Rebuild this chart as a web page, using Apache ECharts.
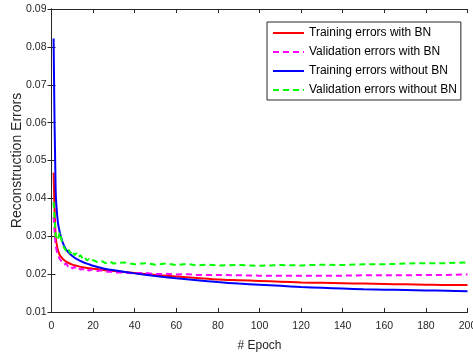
<!DOCTYPE html>
<html>
<head>
<meta charset="utf-8">
<script src="https://cdn.jsdelivr.net/npm/echarts@6/dist/echarts.min.js"></script>
<style>html,body{margin:0;padding:0;background:#fff}#c{width:473px;height:354px}</style>
</head>
<body>
<div id="c"></div>
<script>
// Epoch / value pairs
const trainBNEpochs   = [1,2,3,4,5,6,7,8,10,12,15,20,25,30,40,50,60,70,80,90,100,110,120,130,140,150,160,170,180,190,200];
const trainBN         = [0.0468,0.0300,0.0265,0.0250,0.0243,0.0237,0.0233,0.0230,0.0225,0.0222,0.0218,0.0214,0.0211,0.0208,0.0203,0.0198,0.0194,0.0190,0.0186,0.0184,0.0182,0.0180,0.0178,0.0177,0.0176,0.0175,0.0174,0.0173,0.0172,0.0171,0.0171];

const trainNoBNEpochs = [1,2,3,4,5,6,7,8,10,12,15,18,20,25,30,40,50,60,70,80,90,100,110,120,130,140,150,160,170,180,190,200];
const trainNoBN       = [0.0822,0.0420,0.0340,0.0310,0.0290,0.0275,0.0265,0.0258,0.0248,0.0240,0.0232,0.0226,0.0222,0.0215,0.0210,0.0202,0.0195,0.0189,0.0184,0.0179,0.0175,0.0172,0.0169,0.0166,0.0164,0.0162,0.0160,0.0159,0.0158,0.0157,0.0156,0.0155];

const valBNEpochs     = [1,2,3,4,5,6,7,8,9,10,11,12,13,14,15,16,17,18,19,20,22,24,26,28,30,35,40,45,50,55,60,65,70,80,90,100,110,120,130,140,150,160,170,180,190,200];
const valBN           = [0.0351,0.0275,0.0250,0.0240,0.0232,0.0225,0.0228,0.0220,0.0222,0.0215,0.0219,0.0213,0.0216,0.0212,0.0214,0.0210,0.0213,0.0209,0.0212,0.0210,0.0208,0.0210,0.0206,0.0207,0.0204,0.0204,0.0202,0.0203,0.0200,0.0201,0.0199,0.0200,0.0198,0.0198,0.0197,0.0196,0.0196,0.0196,0.0196,0.0196,0.0197,0.0197,0.0197,0.0198,0.0198,0.0199];

const valNoBNEpochs   = [1,2,3,4,5,6,7,8,9,10,11,12,13,14,15,16,17,18,19,20,22,24,26,28,30,35,40,45,50,55,60,65,70,75,80,90,100,110,120,130,140,150,160,170,180,190,200];
const valNoBN         = [0.0390,0.0300,0.0290,0.0310,0.0285,0.0270,0.0262,0.0268,0.0255,0.0262,0.0250,0.0255,0.0245,0.0250,0.0240,0.0244,0.0236,0.0240,0.0234,0.0237,0.0232,0.0235,0.0229,0.0233,0.0228,0.0231,0.0226,0.0229,0.0225,0.0228,0.0224,0.0227,0.0223,0.0225,0.0223,0.0224,0.0222,0.0224,0.0223,0.0225,0.0224,0.0226,0.0226,0.0228,0.0229,0.0229,0.0231];

const seriesNames = ['Training errors with BN','Validation errors with BN','Training errors without BN','Validation errors without BN'];
const xTicks = {min:0, max:200, interval:20};
const yTicks = {min:0.01, max:0.09, interval:0.01};

function pairs(xs, ys){ return xs.map((x,i)=>[x, ys[i]]); }

const FONT = 'Liberation Sans, Arial, Helvetica, sans-serif';
const AX = '#262626';

const chart = echarts.init(document.getElementById('c'), null, {renderer:'canvas'});
const axisCommon = {
  axisLine:{show:true, lineStyle:{color:AX, width:1}},
  axisTick:{show:true, inside:true, length:4, lineStyle:{color:AX, width:1}},
  splitLine:{show:false}
};
chart.setOption({
  animation:false,
  backgroundColor:'#fff',
  grid:{left:51.5, right:5.5, top:9, bottom:42, outerBoundsMode:'none', containLabel:false},
  legend:{
    orient:'vertical', left:267, top:22,
    data:seriesNames,
    itemWidth:31, itemHeight:14, itemGap:7,
    padding:[5,4,4,5],
    borderColor:'#262626', borderWidth:1, backgroundColor:'#fff',
    itemStyle:{opacity:0},
    textStyle:{fontFamily:FONT, fontSize:12, color:'#000'}
  },
  xAxis:[
    Object.assign({type:'value', min:xTicks.min, max:xTicks.max, interval:xTicks.interval, position:'bottom',
      name:'# Epoch', nameLocation:'middle', nameGap:28, nameMoveOverlap:false,
      nameTextStyle:{fontFamily:FONT, fontSize:12, color:AX},
      axisLabel:{fontFamily:FONT, fontSize:10.5, color:AX, margin:9}}, axisCommon),
    Object.assign({type:'value', min:xTicks.min, max:xTicks.max, interval:xTicks.interval, position:'top',
      axisLabel:{show:false}}, axisCommon)
  ],
  yAxis:[
    Object.assign({type:'value', min:yTicks.min, max:yTicks.max, interval:yTicks.interval, position:'left',
      name:'Reconstruction Errors', nameLocation:'middle', nameGap:27, nameMoveOverlap:false,
      nameTextStyle:{fontFamily:FONT, fontSize:14, color:AX},
      axisLabel:{fontFamily:FONT, fontSize:10.5, color:AX, margin:5, formatter:v=>v.toFixed(2)}}, axisCommon),
    Object.assign({type:'value', min:yTicks.min, max:yTicks.max, interval:yTicks.interval, position:'right',
      axisLabel:{show:false}}, axisCommon)
  ],
  series:[
    {name:seriesNames[0], type:'line', data:pairs(trainBNEpochs, trainBN), showSymbol:false, symbol:'none',
      lineStyle:{color:'#ff0000', width:2}, itemStyle:{color:'#ff0000'}, smooth:0.3},
    {name:seriesNames[1], type:'line', data:pairs(valBNEpochs, valBN), showSymbol:false, symbol:'none',
      lineStyle:{color:'#ff00ff', width:2, type:[6,4]}, itemStyle:{color:'#ff00ff'}},
    {name:seriesNames[2], type:'line', data:pairs(trainNoBNEpochs, trainNoBN), showSymbol:false, symbol:'none',
      lineStyle:{color:'#0000ff', width:2}, itemStyle:{color:'#0000ff'}, smooth:0.3},
    {name:seriesNames[3], type:'line', data:pairs(valNoBNEpochs, valNoBN), showSymbol:false, symbol:'none',
      lineStyle:{color:'#00ff00', width:2, type:[6,4]}, itemStyle:{color:'#00ff00'}}
  ]
});
</script>
</body>
</html>
